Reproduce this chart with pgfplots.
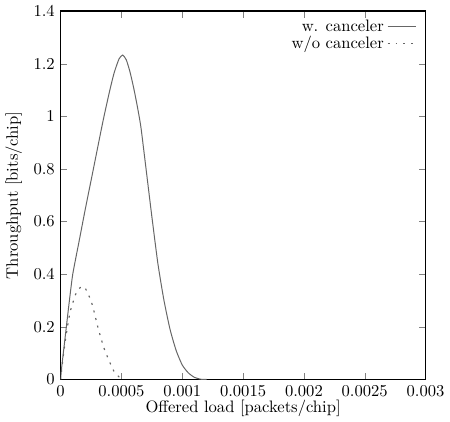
\documentclass[border=0pt]{standalone}
\usepackage{pgfplots}
\pgfplotsset{compat=1.18}
\begin{document}
\begin{tikzpicture}
\begin{axis}[
  scale only axis,
  width=220pt, height=222pt,
  xmin=0, xmax=0.003, ymin=0, ymax=1.4,
  scaled x ticks=false,
  xtick={0,0.0005,0.001,0.0015,0.002,0.0025,0.003},
  xticklabels={0,0.0005,0.001,0.0015,0.002,0.0025,0.003},
  ytick={0,0.2,0.4,0.6,0.8,1,1.2,1.4},
  yticklabels={0,0.2,0.4,0.6,0.8,1,1.2,1.4},
  tick align=inside,
  major tick length=4pt,
  axis line style={line width=0.9pt},
  xlabel={Offered load [packets/chip]},
  ylabel={Throughput [bits/chip]},
  xlabel style={yshift=5pt},
  ylabel style={yshift=0pt},
  legend pos=north east,
  legend style={draw=none, fill=none, legend cell align=right, row sep=-3pt, at={(0.99,0.995)}, anchor=north east},
  legend plot pos=right,
]
\addplot[gray!80!black, line width=0.6pt, smooth, tension=0.35] coordinates {
(0,0) (0.00001,0.05) (0.00003,0.13) (0.00005,0.21) (0.00007,0.29) (0.0001,0.40)
(0.00015,0.52) (0.0002,0.64) (0.00025,0.755) (0.0003,0.87) (0.00035,0.985)
(0.0004,1.09) (0.00044,1.165) (0.00048,1.218) (0.00051,1.233) (0.00054,1.215)
(0.00057,1.17) (0.0006,1.11) (0.00063,1.04) (0.00066,0.96) (0.0007,0.81) (0.00075,0.62)
(0.0008,0.44) (0.00085,0.30) (0.0009,0.19) (0.00095,0.11) (0.001,0.055)
(0.00105,0.025) (0.0011,0.008) (0.00115,0.001) (0.0012,0)
};
\addlegendentry{w. canceler}
\addplot[gray!80!black, line width=0.7pt, dash pattern=on 1.2pt off 3.5pt, smooth, tension=0.4] coordinates {
(0,0) (0.00002,0.08) (0.00004,0.15) (0.00006,0.21) (0.00008,0.26) (0.0001,0.29)
(0.00012,0.32) (0.00015,0.345) (0.00018,0.353) (0.0002,0.35) (0.00022,0.33)
(0.00025,0.30) (0.00028,0.25) (0.0003,0.21) (0.00033,0.16) (0.00036,0.115)
(0.0004,0.07) (0.00044,0.03) (0.00048,0.01) (0.00052,0)
};
\addlegendentry{w/o canceler}
\end{axis}
\end{tikzpicture}
\end{document}
